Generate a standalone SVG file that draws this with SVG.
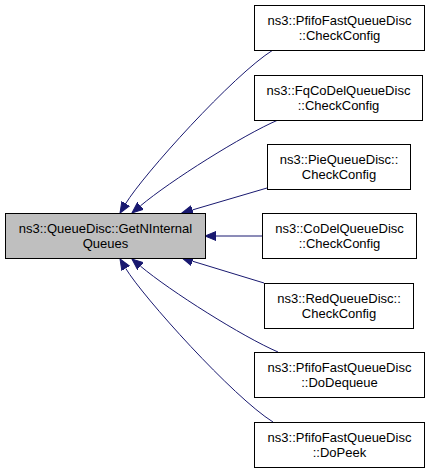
<svg xmlns="http://www.w3.org/2000/svg" width="429" height="472" viewBox="0 0 429 472">
<defs>
<style>
.node rect{fill:#ffffff;stroke:#000000;stroke-width:1}
#main rect{fill:#bfbfbf}
text{font-family:"Liberation Sans",Arial,sans-serif;font-size:13px;fill:#000000;text-anchor:middle}
.edge{fill:none;stroke:#191970;stroke-width:1;marker-end:url(#arr)}
</style>
<marker id="arr" markerUnits="userSpaceOnUse" markerWidth="12" markerHeight="10" viewBox="0 0 12 10" refX="0" refY="5" orient="auto">
<path d="M0,0.5 L11,5 L0,9.5 Z" fill="#191970" stroke="#191970" stroke-width="1"/>
</marker>
</defs>
<rect width="429" height="472" fill="#ffffff"/>
<g id="edges">
<path class="edge" d="M273,50 C233,75 143,175 125.7,203.6"/>
<path class="edge" d="M278,120 C243,135 170,181 140.4,205.9"/>
<path class="edge" d="M267,188 L192.5,209.9"/>
<path class="edge" d="M262,236 L216,236"/>
<path class="edge" d="M264,283 L192.5,261.2"/>
<path class="edge" d="M278,352 C243,337 170,291 140.4,266.1"/>
<path class="edge" d="M273,422 C233,397 143,297 125.7,268.4"/>
</g>
<g id="main" class="node">
<rect x="5.5" y="213.5" width="200" height="45"/>
<text x="105.5" y="233">ns3::QueueDisc::GetNInternal</text>
<text x="105.5" y="248">Queues</text>
</g>
<g id="n1" class="node">
<rect x="254.5" y="5.5" width="170" height="45"/>
<text x="339.5" y="25">ns3::PfifoFastQueueDisc</text>
<text x="339.5" y="40">::CheckConfig</text>
</g>
<g id="n2" class="node">
<rect x="254.5" y="75.5" width="168" height="45"/>
<text x="338.5" y="95">ns3::FqCoDelQueueDisc</text>
<text x="338.5" y="110">::CheckConfig</text>
</g>
<g id="n3" class="node">
<rect x="267.5" y="144.5" width="143" height="45"/>
<text x="339" y="164">ns3::PieQueueDisc::</text>
<text x="339" y="179">CheckConfig</text>
</g>
<g id="n4" class="node">
<rect x="262.5" y="213.5" width="154" height="45"/>
<text x="339.5" y="233">ns3::CoDelQueueDisc</text>
<text x="339.5" y="248">::CheckConfig</text>
</g>
<g id="n5" class="node">
<rect x="264.5" y="283.5" width="149" height="45"/>
<text x="339" y="303">ns3::RedQueueDisc::</text>
<text x="339" y="318">CheckConfig</text>
</g>
<g id="n6" class="node">
<rect x="254.5" y="352.5" width="170" height="45"/>
<text x="339.5" y="372">ns3::PfifoFastQueueDisc</text>
<text x="339.5" y="387">::DoDequeue</text>
</g>
<g id="n7" class="node">
<rect x="254.5" y="422.5" width="170" height="45"/>
<text x="339.5" y="442">ns3::PfifoFastQueueDisc</text>
<text x="339.5" y="457">::DoPeek</text>
</g>
</svg>
